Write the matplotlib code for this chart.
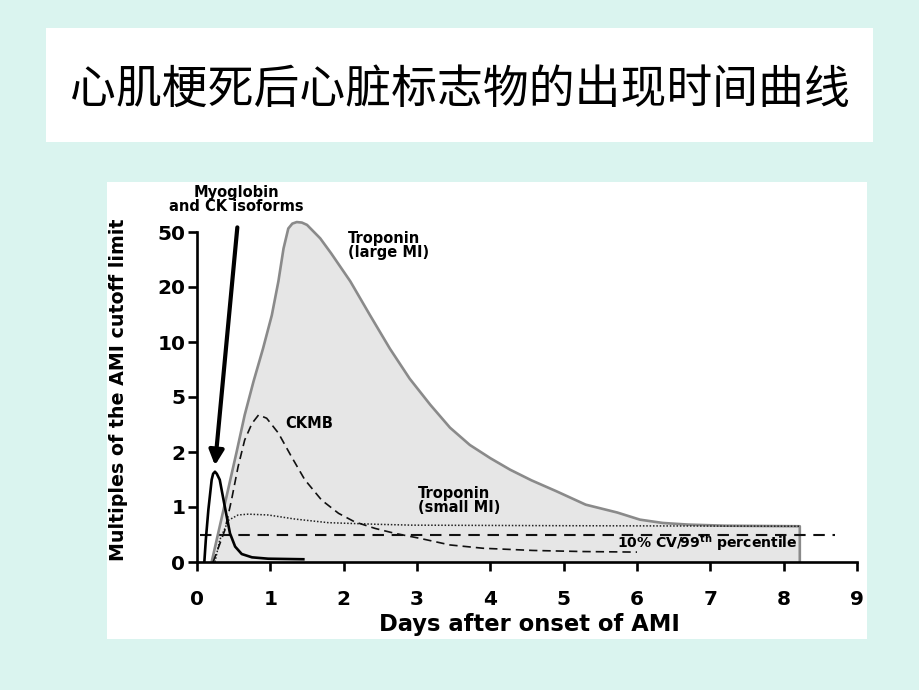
import numpy as np
import matplotlib
matplotlib.use("Agg")
import matplotlib.pyplot as plt
from matplotlib.patches import Rectangle

# ---------------- data ----------------
title = "心肌梗死后心脏标志物的出现时间曲线"
x_ticks = [0, 1, 2, 3, 4, 5, 6, 7, 8, 9]
y_ticks = [0, 1, 2, 5, 10, 20, 50]

trop_large_days = [0.2, 0.37, 0.54, 0.65, 0.77, 0.90, 1.02, 1.11, 1.18, 1.245, 1.30,
                   1.36, 1.43, 1.50, 1.68, 1.83, 2.09, 2.36, 2.63, 2.90, 3.18, 3.45,
                   3.72, 4.0, 4.27, 4.56, 4.9, 5.3, 5.73, 6.04, 6.35, 6.7, 7.2, 8.22]
trop_large_vals = [0, 1.0, 2.0, 3.7, 6.07, 9.2, 14, 22, 38, 53, 57.5,
                   59, 58.5, 56.3, 45, 35, 22, 14, 9.2, 6.3, 4.4, 3.0,
                   2.25, 1.85, 1.6, 1.4, 1.22, 1.03, 0.9, 0.77, 0.71, 0.68, 0.66, 0.65]

trop_small_days = [0.245, 0.31, 0.43, 0.56, 0.70, 0.97, 1.34, 1.79, 2.47, 2.93, 5.0, 8.22]
trop_small_vals = [0, 0.4, 0.76, 0.855, 0.87, 0.855, 0.78, 0.715, 0.685, 0.67, 0.66, 0.65]

ckmb_days = [0.22, 0.38, 0.47, 0.56, 0.65, 0.75, 0.84, 0.95, 1.11, 1.29, 1.47, 1.70,
             1.93, 2.15, 2.43, 2.70, 3.04, 3.45, 3.9, 4.58, 5.26, 6.0]
ckmb_vals = [0, 0.58, 1.09, 1.66, 2.44, 3.22, 3.71, 3.51, 2.74, 1.88, 1.41, 1.09,
             0.885, 0.73, 0.61, 0.52, 0.43, 0.31, 0.25, 0.21, 0.19, 0.18]

myo_days = [0.10, 0.12, 0.155, 0.2, 0.22, 0.245, 0.27, 0.31, 0.38, 0.45, 0.52, 0.61,
            0.75, 0.97, 1.45]
myo_vals = [0, 0.4, 0.95, 1.41, 1.52, 1.56, 1.52, 1.41, 1.0, 0.52, 0.28, 0.145,
            0.085, 0.06, 0.05]

cutoff_value = 0.5
cutoff_days = [0.04, 8.7]
trop_end_day = 8.22

arrow_from = (0.55, 54)
arrow_to = (0.245, 1.69)

# ---------------- y scale (0-1 linear, then log between ticks) ----------------
_tv = np.array([1, 2, 5, 10, 20, 50], dtype=float)
_lt = np.log10(_tv)
_pos = np.arange(len(_tv), dtype=float)
_last_slope = 1.0 / (_lt[-1] - _lt[-2])


def fwd(v):
    v = np.asarray(v, dtype=float)
    lv = np.log10(np.maximum(v, 1e-9))
    hi = np.where(lv > _lt[-1], 5 + (lv - _lt[-1]) * _last_slope, np.interp(lv, _lt, _pos))
    return np.where(v <= 1, v, 1 + hi)


def inv(p):
    p = np.asarray(p, dtype=float)
    q = p - 1
    lv = np.where(q > 5, _lt[-1] + (q - 5) / _last_slope, np.interp(q, _pos, _lt))
    return np.where(p <= 1, p, 10 ** lv)


# ---------------- figure ----------------
W, H = 920, 690
bg = "#daf4ef"
fig = plt.figure(figsize=(W / 100, H / 100), dpi=100, facecolor=bg)


def fx(px):
    return px / W


def fy(py):
    return 1 - py / H


# white boxes (behind everything)
fig.patches.append(Rectangle((fx(46), fy(142)), fx(873) - fx(46), fy(28) - fy(142),
                             transform=fig.transFigure, facecolor="white", edgecolor="none", zorder=-5))
fig.patches.append(Rectangle((fx(107), fy(639)), fx(867) - fx(107), fy(182) - fy(639),
                             transform=fig.transFigure, facecolor="white", edgecolor="none", zorder=-5))

fig.text(fx(460), fy(90), title, ha="center", va="center", fontsize=33,
         family=["Noto Sans CJK SC", "DejaVu Sans"], color="black")

# axes: x 0 at px197, 9 at px857; y 0 at px562, each tick step 55px
top_pos = 6.3
ax = fig.add_axes([fx(197), fy(562), fx(857) - fx(197), (top_pos * 55) / H])
ax.set_zorder(1)
ax.set_facecolor("none")
ax.set_yscale("function", functions=(fwd, inv))
ax.set_xlim(0, 9)
ax.set_ylim(0, float(inv(top_pos)))

# troponin large MI (filled)
tl_d = np.array(trop_large_days + [trop_end_day])
tl_v = np.array(trop_large_vals + [0])
ax.fill_between(trop_large_days, 0, trop_large_vals, color="#e6e6e6", lw=0, zorder=1)
ax.plot(tl_d, tl_v, color="#8a8a8a", lw=1.9, zorder=2, solid_joinstyle="round",
        solid_capstyle="butt")

# cutoff line
ax.plot(cutoff_days, [cutoff_value] * 2, color="#111111", lw=1.5, dashes=(5.5, 3.7), zorder=3)

# troponin small MI (dotted)
ax.plot(trop_small_days, trop_small_vals, color="#222222", lw=1.1, dashes=(1, 1.2), zorder=3)

# CKMB (dashed)
ax.plot(ckmb_days, ckmb_vals, color="#111111", lw=1.2, dashes=(5, 3), zorder=3)

# myoglobin (solid)
ax.plot(myo_days, myo_vals, color="black", lw=1.9, zorder=4, solid_joinstyle="round")

# arrow
ax.annotate("", xy=arrow_to, xytext=arrow_from,
            arrowprops=dict(arrowstyle="-|>", lw=3, color="black", mutation_scale=22,
                            shrinkA=0, shrinkB=0), zorder=5, annotation_clip=False)

# axes styling
for s in ["top", "right"]:
    ax.spines[s].set_visible(False)
for s in ["left", "bottom"]:
    ax.spines[s].set_linewidth(1.9)
    ax.spines[s].set_zorder(6)
ax.spines["left"].set_bounds(0, 50)
ax.spines["bottom"].set_bounds(0, 9)
ax.set_xticks(x_ticks)
ax.set_yticks(y_ticks)
ax.set_xticklabels([str(t) for t in x_ticks])
ax.set_yticklabels([str(t) for t in y_ticks])
ax.minorticks_off()
ax.tick_params(axis="x", direction="out", length=6.5, width=1.9, pad=14,
               labelsize=14.5, colors="black")
ax.tick_params(axis="y", direction="out", length=6.5, width=1.9, pad=2,
               labelsize=14.5, colors="black")
for lab in ax.get_xticklabels() + ax.get_yticklabels():
    lab.set_fontweight("bold")
    lab.set_family("DejaVu Sans")

# axis titles
fig.text(fx(529), fy(625), "Days after onset of AMI", ha="center", va="center",
         fontsize=16.3, fontweight="bold", family="DejaVu Sans")
fig.text(fx(119), fy(390), "Multiples of the AMI cutoff limit", ha="center", va="center",
         rotation=90, fontsize=13.7, fontweight="bold", family="DejaVu Sans")

# curve labels
lab_kw = dict(fontsize=10.5, fontweight="bold", family="DejaVu Sans", color="black")
fig.text(fx(236), fy(199.5), "Myoglobin\nand CK isoforms", ha="center", va="center",
         linespacing=0.95, **lab_kw)
fig.text(fx(348), fy(245.5), "Troponin\n(large MI)", ha="left", va="center",
         linespacing=0.95, **lab_kw)
fig.text(fx(285), fy(423), "CKMB", ha="left", va="center", **lab_kw)
fig.text(fx(418), fy(500.5), "Troponin\n(small MI)", ha="left", va="center",
         linespacing=0.95, **lab_kw)
plt.rcParams["mathtext.fontset"] = "dejavusans"
lab_kw2 = dict(lab_kw, fontsize=10.1)
fig.text(fx(617), fy(543), r"10% CV/99$^{\mathbf{th}}$ percentile", ha="left", va="center",
         **lab_kw2)

fig.savefig("out.png", dpi=100, facecolor=bg)
